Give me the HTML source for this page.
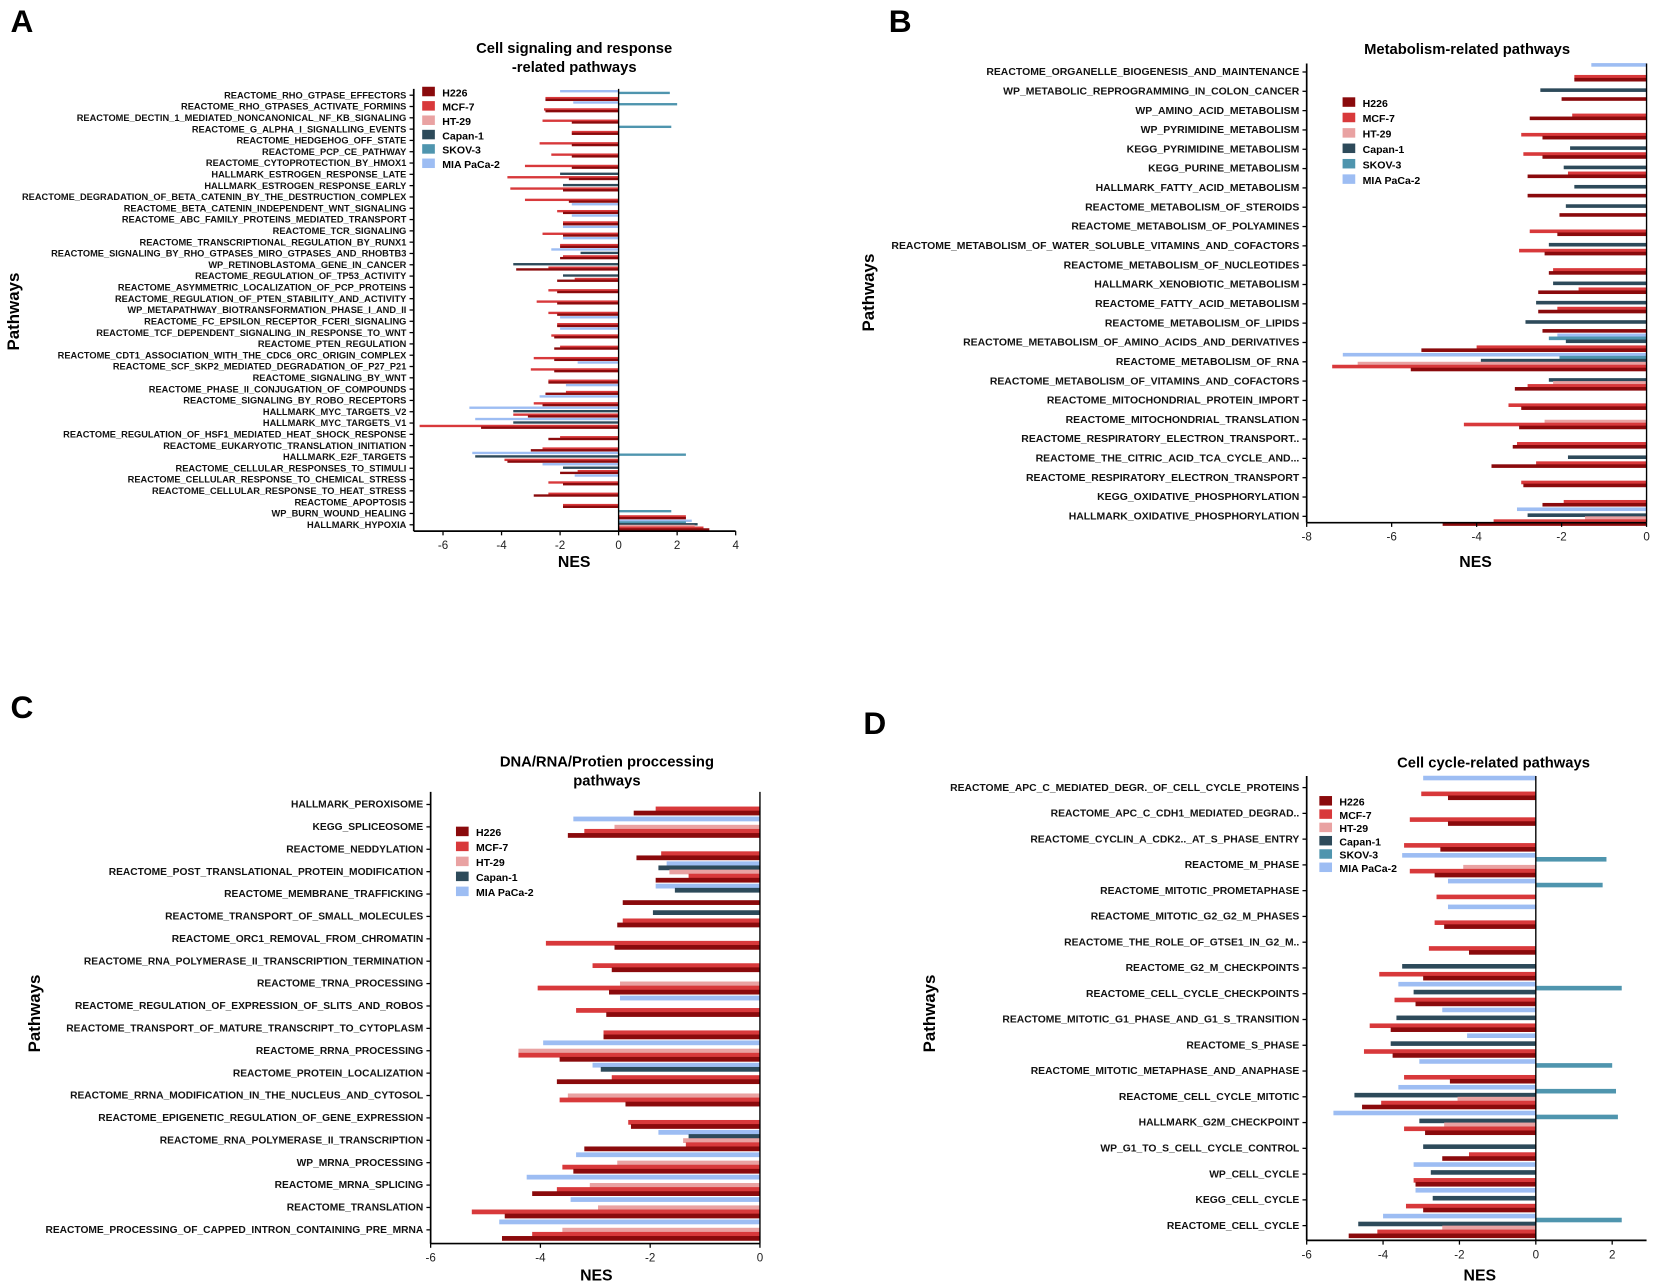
<!DOCTYPE html>
<html><head><meta charset="utf-8"><style>
html,body{margin:0;padding:0;background:#fff;}
svg{display:block;font-family:"Liberation Sans",Arial,sans-serif;}
</style></head><body>
<svg id="fig" width="1655" height="1286" viewBox="0 0 1568 1218" xmlns="http://www.w3.org/2000/svg"></svg>
<script>
// Series (legend order)
const seriesNames = ["H226","MCF-7","HT-29","Capan-1","SKOV-3","MIA PaCa-2"];
const seriesColors = ["#8a0a0c","#d8393b","#e9a2a2","#2d4a5a","#4f95ae","#9dbdf3"];

// Panel A
const catsA = ["REACTOME_RHO_GTPASE_EFFECTORS","REACTOME_RHO_GTPASES_ACTIVATE_FORMINS","REACTOME_DECTIN_1_MEDIATED_NONCANONICAL_NF_KB_SIGNALING","REACTOME_G_ALPHA_I_SIGNALLING_EVENTS","REACTOME_HEDGEHOG_OFF_STATE","REACTOME_PCP_CE_PATHWAY","REACTOME_CYTOPROTECTION_BY_HMOX1","HALLMARK_ESTROGEN_RESPONSE_LATE","HALLMARK_ESTROGEN_RESPONSE_EARLY","REACTOME_DEGRADATION_OF_BETA_CATENIN_BY_THE_DESTRUCTION_COMPLEX","REACTOME_BETA_CATENIN_INDEPENDENT_WNT_SIGNALING","REACTOME_ABC_FAMILY_PROTEINS_MEDIATED_TRANSPORT","REACTOME_TCR_SIGNALING","REACTOME_TRANSCRIPTIONAL_REGULATION_BY_RUNX1","REACTOME_SIGNALING_BY_RHO_GTPASES_MIRO_GTPASES_AND_RHOBTB3","WP_RETINOBLASTOMA_GENE_IN_CANCER","REACTOME_REGULATION_OF_TP53_ACTIVITY","REACTOME_ASYMMETRIC_LOCALIZATION_OF_PCP_PROTEINS","REACTOME_REGULATION_OF_PTEN_STABILITY_AND_ACTIVITY","WP_METAPATHWAY_BIOTRANSFORMATION_PHASE_I_AND_II","REACTOME_FC_EPSILON_RECEPTOR_FCERI_SIGNALING","REACTOME_TCF_DEPENDENT_SIGNALING_IN_RESPONSE_TO_WNT","REACTOME_PTEN_REGULATION","REACTOME_CDT1_ASSOCIATION_WITH_THE_CDC6_ORC_ORIGIN_COMPLEX","REACTOME_SCF_SKP2_MEDIATED_DEGRADATION_OF_P27_P21","REACTOME_SIGNALING_BY_WNT","REACTOME_PHASE_II_CONJUGATION_OF_COMPOUNDS","REACTOME_SIGNALING_BY_ROBO_RECEPTORS","HALLMARK_MYC_TARGETS_V2","HALLMARK_MYC_TARGETS_V1","REACTOME_REGULATION_OF_HSF1_MEDIATED_HEAT_SHOCK_RESPONSE","REACTOME_EUKARYOTIC_TRANSLATION_INITIATION","HALLMARK_E2F_TARGETS","REACTOME_CELLULAR_RESPONSES_TO_STIMULI","REACTOME_CELLULAR_RESPONSE_TO_CHEMICAL_STRESS","REACTOME_CELLULAR_RESPONSE_TO_HEAT_STRESS","REACTOME_APOPTOSIS","WP_BURN_WOUND_HEALING","HALLMARK_HYPOXIA"];
const a_H226 = [-2.5,-2.5,-1.6,-1.6,-1.6,-1.6,-1.6,-1.7,-1.9,-1.7,-1.9,-1.9,-1.9,-2.0,-2.0,-3.5,-2.1,-2.1,-2.1,-2.1,-2.1,-2.2,-2.2,-2.2,-2.2,-2.4,-2.5,-2.6,-3.1,-4.7,-2.4,-3.0,-3.8,-2.0,-1.9,-2.9,-1.9,2.3,3.1];
const a_MCF7 = [-2.5,-2.55,-2.6,-1.6,-2.7,-2.3,-3.2,-3.8,-3.7,-3.2,-2.1,-1.9,-2.6,-2.0,-1.9,-2.4,-1.5,-2.4,-2.8,-2.4,-2.1,-2.3,-2.0,-2.9,-3.0,-2.4,-1.8,-2.9,-3.6,-6.8,-2.0,-2.6,-3.9,-1.4,-2.4,-2.4,-1.9,2.3,2.9];
const a_HT29 = [0,0,0,0,0,0,0,0,0,0,0,0,0,0,0,0,0,0,0,0,0,0,0,0,0,0,0,0,0,0,0,0,0,0,0,0,0,0,2.6];
const a_Capan = [0,0,0,0,0,0,0,-2.0,-1.9,0,0,0,0,0,-1.3,-3.6,-1.9,0,0,0,0,0,0,0,0,0,0,0,-3.6,-3.6,0,0,-4.9,-1.9,0,0,0,0,2.7];
const a_SKOV = [1.75,2.0,0,1.8,0,0,0,0,0,0,0,0,0,0,0,0,0,0,0,0,0,0,0,0,0,0,0,0,0,0,0,0,2.3,0,0,0,0,1.8,2.3];
const a_MIA = [-2.0,-1.55,0,0,0,0,0,0,0,0,-1.6,-1.6,-1.9,-1.9,-2.3,0,0,0,0,0,-2.0,-2.0,0,0,-1.4,0,-1.8,-2.7,-5.1,-4.9,0,0,-5.0,-2.6,-1.5,0,0,0,2.5];
const ticksA = [-6,-4,-2,0,2,4];

// Panel B
const catsB = ["REACTOME_ORGANELLE_BIOGENESIS_AND_MAINTENANCE","WP_METABOLIC_REPROGRAMMING_IN_COLON_CANCER","WP_AMINO_ACID_METABOLISM","WP_PYRIMIDINE_METABOLISM","KEGG_PYRIMIDINE_METABOLISM","KEGG_PURINE_METABOLISM","HALLMARK_FATTY_ACID_METABOLISM","REACTOME_METABOLISM_OF_STEROIDS","REACTOME_METABOLISM_OF_POLYAMINES","REACTOME_METABOLISM_OF_WATER_SOLUBLE_VITAMINS_AND_COFACTORS","REACTOME_METABOLISM_OF_NUCLEOTIDES","HALLMARK_XENOBIOTIC_METABOLISM","REACTOME_FATTY_ACID_METABOLISM","REACTOME_METABOLISM_OF_LIPIDS","REACTOME_METABOLISM_OF_AMINO_ACIDS_AND_DERIVATIVES","REACTOME_METABOLISM_OF_RNA","REACTOME_METABOLISM_OF_VITAMINS_AND_COFACTORS","REACTOME_MITOCHONDRIAL_PROTEIN_IMPORT","REACTOME_MITOCHONDRIAL_TRANSLATION","REACTOME_RESPIRATORY_ELECTRON_TRANSPORT..","REACTOME_THE_CITRIC_ACID_TCA_CYCLE_AND...","REACTOME_RESPIRATORY_ELECTRON_TRANSPORT","KEGG_OXIDATIVE_PHOSPHORYLATION","HALLMARK_OXIDATIVE_PHOSPHORYLATION"];
const b_H226 = [-1.7,-2.0,-2.75,-2.45,-2.45,-2.8,-2.8,-2.05,-2.1,-2.4,-2.3,-2.55,-2.55,-2.45,-5.3,-5.55,-3.1,-2.95,-3.0,-3.15,-3.65,-2.9,-2.45,-4.8];
const b_MCF7 = [-1.7,0,-1.75,-2.95,-2.9,-1.85,0,0,-2.75,-3.0,-2.2,-1.6,-2.1,0,-4.0,-7.4,-2.8,-3.25,-4.3,-3.05,-2.6,-2.95,-1.95,-3.6];
const b_HT29 = [0,0,0,0,0,0,0,0,0,0,0,0,0,0,0,-6.8,-2.2,0,-2.4,0,0,0,0,-1.45];
const b_Capan = [0,-2.5,0,0,-1.8,-1.95,-1.7,-1.9,0,-2.3,0,-2.2,-2.6,-2.85,-1.9,-3.9,-2.3,0,0,0,-1.85,0,0,-2.8];
const b_SKOV = [0,0,0,0,0,0,0,0,0,0,0,0,0,0,-2.3,-2.05,0,0,0,0,0,0,0,0];
const b_MIA = [-1.3,0,0,0,0,0,0,0,0,0,0,0,0,0,-2.1,-7.15,0,0,0,0,0,0,0,-3.05];
const ticksB = [-8,-6,-4,-2,0];

// Panel C
const catsC = ["HALLMARK_PEROXISOME","KEGG_SPLICEOSOME","REACTOME_NEDDYLATION","REACTOME_POST_TRANSLATIONAL_PROTEIN_MODIFICATION","REACTOME_MEMBRANE_TRAFFICKING","REACTOME_TRANSPORT_OF_SMALL_MOLECULES","REACTOME_ORC1_REMOVAL_FROM_CHROMATIN","REACTOME_RNA_POLYMERASE_II_TRANSCRIPTION_TERMINATION","REACTOME_TRNA_PROCESSING","REACTOME_REGULATION_OF_EXPRESSION_OF_SLITS_AND_ROBOS","REACTOME_TRANSPORT_OF_MATURE_TRANSCRIPT_TO_CYTOPLASM","REACTOME_RRNA_PROCESSING","REACTOME_PROTEIN_LOCALIZATION","REACTOME_RRNA_MODIFICATION_IN_THE_NUCLEUS_AND_CYTOSOL","REACTOME_EPIGENETIC_REGULATION_OF_GENE_EXPRESSION","REACTOME_RNA_POLYMERASE_II_TRANSCRIPTION","WP_MRNA_PROCESSING","REACTOME_MRNA_SPLICING","REACTOME_TRANSLATION","REACTOME_PROCESSING_OF_CAPPED_INTRON_CONTAINING_PRE_MRNA"];
const c_H226 = [-2.3,-3.5,-2.25,-1.9,-2.5,-2.6,-2.65,-2.7,-2.75,-2.8,-2.85,-3.65,-3.7,-2.45,-2.35,-3.2,-3.4,-4.15,-4.65,-4.7];
const c_MCF7 = [-1.9,-3.2,-1.8,-1.3,0,-2.5,-3.9,-3.05,-4.05,-3.35,-2.85,-4.4,-2.7,-3.65,-2.4,-1.35,-3.6,-3.7,-5.25,-4.15];
const c_HT29 = [0,-2.65,0,-1.65,0,0,0,0,-2.55,0,0,-4.4,0,-3.5,0,-1.4,-2.6,-3.1,-2.95,-3.6];
const c_Capan = [0,0,0,-1.85,-1.55,-1.95,0,0,0,0,0,0,-2.9,0,0,-1.3,0,0,0,0];
const c_MIA = [0,-3.4,0,-1.7,-1.9,0,0,0,0,-2.55,0,-3.95,-3.05,0,0,-1.85,-3.35,-4.25,-3.45,-4.75];
const ticksC = [-6,-4,-2,0];

// Panel D
const catsD = ["REACTOME_APC_C_MEDIATED_DEGR._OF_CELL_CYCLE_PROTEINS","REACTOME_APC_C_CDH1_MEDIATED_DEGRAD..","REACTOME_CYCLIN_A_CDK2.._AT_S_PHASE_ENTRY","REACTOME_M_PHASE","REACTOME_MITOTIC_PROMETAPHASE","REACTOME_MITOTIC_G2_G2_M_PHASES","REACTOME_THE_ROLE_OF_GTSE1_IN_G2_M..","REACTOME_G2_M_CHECKPOINTS","REACTOME_CELL_CYCLE_CHECKPOINTS","REACTOME_MITOTIC_G1_PHASE_AND_G1_S_TRANSITION","REACTOME_S_PHASE","REACTOME_MITOTIC_METAPHASE_AND_ANAPHASE","REACTOME_CELL_CYCLE_MITOTIC","HALLMARK_G2M_CHECKPOINT","WP_G1_TO_S_CELL_CYCLE_CONTROL","WP_CELL_CYCLE","KEGG_CELL_CYCLE","REACTOME_CELL_CYCLE"];
const d_H226 = [-2.3,-2.3,-2.5,-2.65,0,-2.4,-1.75,-2.95,-3.15,-3.8,-3.75,-2.25,-4.55,-2.9,-2.45,-3.15,-2.95,-4.9];
const d_MCF7 = [-3.0,-3.3,-3.45,-3.3,-2.6,-2.65,-2.8,-4.1,-3.7,-4.35,-4.5,-3.45,-4.05,-3.45,-1.75,-3.2,-3.4,-4.15];
const d_HT29 = [0,0,0,-1.9,0,0,0,0,0,0,0,0,-2.05,-2.4,0,0,0,-2.45];
const d_Capan = [0,0,0,0,0,0,0,-3.5,-3.2,-3.65,-3.8,0,-4.75,-3.05,-2.95,-2.75,-2.7,-4.65];
const d_SKOV = [0,0,0,1.85,1.75,0,0,0,2.25,0,0,2.0,2.1,2.15,0,0,0,2.25];
const d_MIA = [-2.95,0,0,-3.5,-2.3,-2.3,0,0,-3.6,-2.45,-1.8,-3.05,-3.6,-5.3,0,-3.2,-3.15,-4.0];
const ticksD = [-6,-4,-2,0,2];

const NS = "http://www.w3.org/2000/svg";
const svg = document.getElementById("fig");
function mk(tag, attrs, parent){
  const e = document.createElementNS(NS, tag);
  for (const k in attrs) e.setAttribute(k, attrs[k]);
  (parent||svg).appendChild(e);
  return e;
}

function drawPanel(cfg, cats, seriesIdx, seriesVals, ticks){
  const g = mk("g", {});
  
  
  const x = v => cfg.x0 + (v - cfg.xmin) / (cfg.xmax - cfg.xmin) * (cfg.x1 - cfg.x0);
  const n = cats.length;
  const step = (cfg.yLast - cfg.yFirst) / (n - 1);
  const yc = i => cfg.yFirst + i * step;
  const ns = seriesIdx.length;
  const gh = step * 0.92;
  const bh = gh / ns;
  for (let i = 0; i < n; i++){
    for (let k = ns - 1; k >= 0; k--){
      const v = seriesVals[k][i];
      if (!v) continue;
      const pos = ns - 1 - k;
      const y = yc(i) - gh/2 + pos*bh;
      const r = mk("rect", {x: Math.min(x(0), x(v)), y: y, width: Math.abs(x(v)-x(0)), height: bh+0.6, fill: seriesColors[seriesIdx[k]]}, g);
      
      
    }
  }
  const zl = mk("line", {x1:x(0), x2:x(0), y1:cfg.yTop, y2:cfg.yAxis, stroke:"#000", "stroke-width":1.3}, g);
  
  
  const ya = mk("line", {x1:cfg.x0, x2:cfg.x0, y1:cfg.yTop, y2:cfg.yAxis, stroke:"#000", "stroke-width":1.6}, g);
  
  
  const xa = mk("line", {x1:cfg.x0, x2:cfg.x1, y1:cfg.yAxis, y2:cfg.yAxis, stroke:"#000", "stroke-width":1.6}, g);
  
  
  ticks.forEach(t => {
    mk("line", {x1:x(t), x2:x(t), y1:cfg.yAxis, y2:cfg.yAxis+4, stroke:"#000", "stroke-width":1.2}, g);
    const tl = mk("text", {x:x(t), y:cfg.yAxis+17, "font-size":11, "text-anchor":"middle", fill:"#222"}, g);
    tl.textContent = t;
    
    
  });
  cats.forEach((c, i) => {
    mk("line", {x1:cfg.x0-4, x2:cfg.x0, y1:yc(i), y2:yc(i), stroke:"#000", "stroke-width":1.2}, g);
    const t = mk("text", {x:cfg.x0-7, y:yc(i)+3, "font-size":cfg.fs, "font-weight":"bold", "text-anchor":"end", fill:"#111"}, g);
    t.textContent = c;
    
    
  });
  cfg.title.forEach((line, j) => {
    const t = mk("text", {x:cfg.tx, y:cfg.ty + j*18, "font-size":14, "font-weight":"bold", "text-anchor":"middle"}, g);
    t.textContent = line;
    
    
  });
  const nes = mk("text", {x:cfg.nesX, y:cfg.nesY, "font-size":15, "font-weight":"bold", "text-anchor":"middle"}, g);
  nes.textContent = "NES";
  
  
  const pw = mk("text", {x:cfg.pwX, y:cfg.pwY, "font-size":16, "font-weight":"bold", "text-anchor":"middle", transform:"rotate(-90 "+cfg.pwX+" "+cfg.pwY+")"}, g);
  pw.textContent = "Pathways";
  
  
  const letter = mk("text", {x:cfg.lx, y:cfg.ly, "font-size":30, "font-weight":"bold"}, g);
  letter.textContent = cfg.letter;
  
  
  seriesIdx.forEach((s, j) => {
    const yy = cfg.legY + j*cfg.legStep;
    const sw = mk("rect", {x:cfg.legX, y:yy-5, width:12, height:9, fill:seriesColors[s]}, g);
    
    
    const lt = mk("text", {x:cfg.legX+19, y:yy+4, "font-size":cfg.legFs, "font-weight":"bold"}, g);
    lt.textContent = seriesNames[s];
    
    
  });
}

drawPanel({name:"panel-a-chart", letter:"A", lx:10, ly:30, x0:392, x1:697, xmin:-7, xmax:4, yTop:84, yAxis:503, yFirst:90, yLast:497, fs:8.8,
  title:["Cell signaling and response","-related pathways"], tx:544, ty:50, nesX:544, nesY:537, pwX:18, pwY:295,
  legX:400, legY:87, legStep:13.6, legFs:10},
  catsA, [0,1,2,3,4,5], [a_H226,a_MCF7,a_HT29,a_Capan,a_SKOV,a_MIA], ticksA);

drawPanel({name:"panel-b-chart", letter:"B", lx:842, ly:30, x0:1238, x1:1560, xmin:-8, xmax:0, yTop:60, yAxis:495, yFirst:68, yLast:489, fs:9.9,
  title:["Metabolism-related pathways"], tx:1390, ty:51, nesX:1398, nesY:537, pwX:828, pwY:277,
  legX:1272, legY:97, legStep:14.6, legFs:10},
  catsB, [0,1,2,3,4,5], [b_H226,b_MCF7,b_HT29,b_Capan,b_SKOV,b_MIA], ticksB);

drawPanel({name:"panel-c-chart", letter:"C", lx:10, ly:680, x0:408, x1:720, xmin:-6, xmax:0, yTop:750, yAxis:1178, yFirst:762, yLast:1165, fs:9.7,
  title:["DNA/RNA/Protien proccessing","pathways"], tx:575, ty:726, nesX:565, nesY:1213, pwX:38, pwY:960,
  legX:432, legY:788, legStep:14.2, legFs:10},
  catsC, [0,1,2,3,5], [c_H226,c_MCF7,c_HT29,c_Capan,c_MIA], ticksC);

drawPanel({name:"panel-d-chart", letter:"D", lx:818, ly:695, x0:1238, x1:1560, xmin:-6, xmax:2.9, yTop:735, yAxis:1175, yFirst:746, yLast:1161, fs:9.8,
  title:["Cell cycle-related pathways"], tx:1415, ty:727, nesX:1402, nesY:1213, pwX:886, pwY:960,
  legX:1250, legY:759, legStep:12.6, legFs:10},
  catsD, [0,1,2,3,4,5], [d_H226,d_MCF7,d_HT29,d_Capan,d_SKOV,d_MIA], ticksD);
</script>
</body></html>
